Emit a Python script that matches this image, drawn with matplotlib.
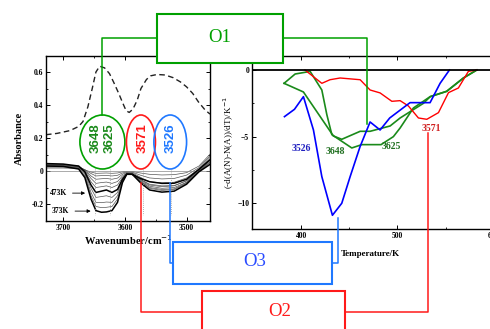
import numpy as np
import matplotlib
matplotlib.use("Agg")
import matplotlib.pyplot as plt
from matplotlib.patches import Ellipse, Rectangle

plt.rcParams['font.family'] = ['Liberation Serif', 'DejaVu Serif']

# ---- left panel: IR spectra ----
wavenumber = [3728, 3700, 3675, 3665, 3655, 3647, 3638, 3630, 3621, 3612,
              3604, 3597, 3588, 3575, 3560, 3540, 3520, 3500, 3480, 3460]
spec_temps = [373, 398, 423, 448, 473, 498, 523, 548, 573, 598]
spec_373 = [0.030, 0.028, 0.012, -0.04, -0.17, -0.24, -0.25, -0.248, -0.24, -0.19,
            -0.07, -0.02, -0.02, -0.045, -0.065, -0.075, -0.074, -0.05, 0.01, 0.075]
spec_398 = [0.033, 0.03, 0.016, -0.03, -0.15, -0.215, -0.222, -0.22, -0.215, -0.17,
            -0.065, -0.02, -0.022, -0.05, -0.08, -0.09, -0.088, -0.06, 0.005, 0.07]
spec_423 = [0.036, 0.034, 0.02, -0.02, -0.13, -0.19, -0.192, -0.188, -0.19, -0.15,
            -0.06, -0.02, -0.022, -0.055, -0.092, -0.105, -0.1, -0.068, 0.0, 0.062]
spec_448 = [0.04, 0.038, 0.025, -0.012, -0.105, -0.16, -0.155, -0.15, -0.16, -0.13,
            -0.055, -0.019, -0.021, -0.062, -0.105, -0.118, -0.112, -0.075, -0.003, 0.055]
spec_473 = [0.045, 0.042, 0.03, -0.005, -0.085, -0.13, -0.122, -0.115, -0.13, -0.112,
            -0.05, -0.018, -0.02, -0.07, -0.115, -0.128, -0.122, -0.08, -0.005, 0.045]
spec_498 = [0.04, 0.038, 0.03, 0.0, -0.065, -0.1, -0.095, -0.09, -0.1, -0.085,
            -0.04, -0.015, -0.018, -0.06, -0.1, -0.112, -0.108, -0.07, 0.0, 0.06]
spec_523 = [0.035, 0.034, 0.028, 0.005, -0.045, -0.075, -0.07, -0.067, -0.075, -0.064,
            -0.03, -0.012, -0.015, -0.05, -0.085, -0.095, -0.09, -0.058, 0.005, 0.075]
spec_548 = [0.03, 0.03, 0.025, 0.008, -0.03, -0.05, -0.047, -0.045, -0.05, -0.043,
            -0.02, -0.008, -0.01, -0.038, -0.065, -0.072, -0.068, -0.042, 0.012, 0.09]
spec_573 = [0.024, 0.024, 0.02, 0.008, -0.015, -0.03, -0.028, -0.027, -0.03, -0.026,
            -0.012, -0.005, -0.007, -0.025, -0.042, -0.048, -0.045, -0.025, 0.02, 0.1]
spec_598 = [0.018, 0.018, 0.015, 0.006, -0.006, -0.014, -0.013, -0.012, -0.014, -0.012,
            -0.005, -0.002, -0.003, -0.012, -0.02, -0.024, -0.022, -0.01, 0.03, 0.11]
spectra = [spec_373, spec_398, spec_423, spec_448, spec_473,
           spec_498, spec_523, spec_548, spec_573, spec_598]

# dashed reference spectrum
ref_x = [3728, 3710, 3689, 3675, 3668, 3660, 3653, 3647, 3641, 3633, 3625, 3618, 3610,
         3604, 3598, 3593, 3587, 3580, 3574, 3565, 3558, 3548, 3535, 3522, 3510, 3500,
         3490, 3481, 3470, 3462]
ref_y = [0.22, 0.228, 0.245, 0.27, 0.3, 0.39, 0.5, 0.6, 0.635, 0.625, 0.59, 0.536, 0.47,
         0.416, 0.365, 0.355, 0.375, 0.43, 0.5, 0.555, 0.577, 0.585, 0.582, 0.566, 0.54,
         0.51, 0.47, 0.42, 0.37, 0.345]

# ---- right panel: -dA/dT vs temperature ----
t_3526 = [382.7, 393.1, 402.4, 412.8, 421.5, 432.5, 442.2, 450.9, 461.2, 471.6,
          482.0, 492.0, 513.1, 533.9, 544.3, 554.0]
v_3526 = [-3.5, -2.95, -2.0, -4.5, -8.0, -10.9, -10.0, -8.0, -5.75, -3.9,
          -4.5, -3.6, -2.45, -2.45, -1.0, 0.0]
t_3571 = [404.0, 414.5, 421.5, 430.0, 440.5, 461.3, 471.6, 482.0, 494.2, 502.8,
          511.4, 521.8, 530.5, 542.6, 553.0, 563.3, 573.7, 582.4]
v_3571 = [0.0, -0.6, -1.0, -0.73, -0.6, -0.73, -1.5, -1.72, -2.35, -2.3,
          -2.7, -3.6, -3.7, -3.2, -1.7, -1.35, -0.1, 0.0]
t_3648 = [382.3, 402.4, 433.5, 442.2, 461.3, 471.6, 492.4, 502.8, 527.0, 534.0,
          551.0, 568.5, 582.4]
v_3648 = [-1.0, -1.65, -4.95, -5.2, -4.6, -4.6, -4.2, -3.6, -2.5, -2.0,
          -1.6, -0.6, 0.0]
t_3625 = [382.3, 393.8, 406.0, 409.3, 421.5, 426.7, 431.9, 452.6, 463.0, 473.4,
          483.0, 495.8, 502.8, 516.6, 534.0, 551.3, 568.5, 582.4]
v_3625 = [-1.0, -0.3, -0.15, -0.1, -1.5, -3.35, -4.85, -5.85, -5.6, -5.6,
          -5.6, -5.0, -4.35, -2.85, -2.0, -1.6, -0.6, 0.0]

GREEN = '#00a000'
RED = '#ff1a1a'
LBLUE = '#1f78ff'
W, H = 490, 329

fig = plt.figure(figsize=(4.9, 3.29), dpi=100)

ax1 = fig.add_axes([46 / W, 1 - 221 / H, (210 - 46) / W, (221 - 56) / H])
ax2 = fig.add_axes([252 / W, 1 - 229 / H, 261 / W, (229 - 56) / H])

# left panel
for temp, s in zip(spec_temps, spectra):
    if temp in (373, 473):
        ax1.plot(wavenumber, s, color='black', lw=1.1, zorder=3)
    else:
        ax1.plot(wavenumber, s, color='#555555', lw=0.5, zorder=2)
ax1.axhline(0, color='#888888', lw=0.5)
ax1.plot(ref_x, ref_y, color='#222222', lw=1.0, ls=(0, (4, 2.5)))
ax1.set_xlim(3728, 3462)
ax1.set_ylim(-0.303, 0.697)
ax1.set_xticks([3700, 3600, 3500])
ax1.set_xticks([3650, 3550], minor=True)
ax1.set_yticks([-0.2, 0, 0.2, 0.4, 0.6])
ax1.set_yticklabels(['-0.2', '0', '0.2', '0.4', '0.6'])
ax1.set_yticks([-0.1, 0.1, 0.3, 0.5], minor=True)
ax1.set_xlabel('Wavenumber/cm$^{-1}$', fontsize=7.5, fontweight='bold', labelpad=1)
ax1.set_ylabel('Absorbance', fontsize=7.5, fontweight='bold', labelpad=5)
ax1.annotate('473K', xy=(3660, -0.134), xytext=(3708, -0.134), fontsize=5.5,
             fontweight='bold', ha='center', va='center',
             arrowprops=dict(arrowstyle='-|>', lw=0.6, color='black', mutation_scale=5))
ax1.annotate('373K', xy=(3651, -0.243), xytext=(3704, -0.243), fontsize=5.5,
             fontweight='bold', ha='center', va='center',
             arrowprops=dict(arrowstyle='-|>', lw=0.6, color='black', mutation_scale=5))

# right panel
ax2.plot(t_3648, v_3648, color='#1a8a1a', lw=1.2)
ax2.plot(t_3625, v_3625, color='#1a8a1a', lw=1.2)
ax2.plot(t_3571, v_3571, color='#ff0000', lw=1.0)
ax2.plot(t_3526, v_3526, color='#0000ff', lw=1.2)
ax2.axhline(0, color='black', lw=1.3)
ax2.set_xlim(349, 620)
ax2.set_ylim(-11.93, 1.05)
ax2.set_xticks([400, 500, 600])
ax2.set_xticks([450, 550], minor=True)
ax2.set_yticks([-10, -5, 0])
ax2.set_yticks([-7.5, -2.5], minor=True)
ax2.set_xlabel('Temperature/K', fontsize=6.5, fontweight='bold')
ax2.xaxis.set_label_coords((370 - 252) / 261, -0.12)
ax2.set_ylabel('(-d(A(N)-N(A))/dT)/K$^{-1}$', fontsize=6.5, labelpad=1)
ax2.text(400, -5.87, '3526', color='#2020c0', fontsize=7, fontweight='bold', ha='center', va='center')
ax2.text(435.3, -6.08, '3648', color='#207020', fontsize=7, fontweight='bold', ha='center', va='center')
ax2.text(493.5, -5.75, '3625', color='#207020', fontsize=7, fontweight='bold', ha='center', va='center')
ax2.text(535.7, -4.37, '3571', color='#d02020', fontsize=7, fontweight='bold', ha='center', va='center')

for ax in (ax1, ax2):
    ax.tick_params(which='both', direction='in', top=True, right=True, labelsize=5.5, pad=2)
    ax.tick_params(which='major', length=3, width=0.7)
    ax.tick_params(which='minor', length=1.5, width=0.6)
    for lab in ax.get_xticklabels() + ax.get_yticklabels():
        lab.set_fontweight('bold')
    for sp in ax.spines.values():
        sp.set_linewidth(1.0)


def px(ax, x, y):
    X, Y = ax.transData.transform((x, y))
    return X, H - Y


# overlay in pixel coordinates
ov = fig.add_axes([0, 0, 1, 1], zorder=10)
ov.set_xlim(0, W)
ov.set_ylim(H, 0)
ov.axis('off')
ov.patch.set_alpha(0)

ell_y, ell_h = 142, 54
gx, _ = px(ax1, 3636.5, 0)
rx, _ = px(ax1, 3574, 0)
bx, _ = px(ax1, 3526.5, 0)
ov.add_patch(Ellipse((gx, ell_y), 45, ell_h, fill=False, ec=GREEN, lw=1.2))
ov.add_patch(Ellipse((rx, ell_y), 29, ell_h, fill=False, ec=RED, lw=1.2))
ov.add_patch(Ellipse((bx, ell_y), 32.7, ell_h, fill=False, ec=LBLUE, lw=1.2))

nar = ['Liberation Sans Narrow', 'Liberation Sans', 'DejaVu Sans']
for lbl, wn, c in [('3648', 3648, '#1a8a1a'), ('3625', 3625, '#1a8a1a'),
                   ('3571', 3571, RED), ('3526', 3526, LBLUE)]:
    x, _ = px(ax1, wn, 0)
    ov.text(x, 138, lbl, rotation=90, ha='center', va='center', color=c,
            fontsize=9.5, fontweight='bold', family=nar)
    ov.plot([x, x], [169, 215], color='#999999', lw=0.6, ls=(0, (1, 1.5)))

# O1 box (green)
ov.add_patch(Rectangle((157, 13.5), 126, 49, fc='white', ec=GREEN, lw=1.5))
ov.text(220, 38, 'O1', color=GREEN, fontsize=13.5, ha='center', va='center')
gtx, gty = px(ax2, 468.2, -4.05)
ov.plot([157, gx, gx], [37.7, 37.7, ell_y - ell_h / 2], color=GREEN, lw=1.1)
ov.plot([283, gtx, gtx], [37.7, 37.7, gty], color=GREEN, lw=1.1)

# O3 box (blue)
ov.add_patch(Rectangle((173, 242), 159, 41.5, fc='white', ec=LBLUE, lw=1.5))
ov.text(255, 262, 'O3', color='#2a4cff', fontsize=13.5, ha='center', va='center')
_, by0 = px(ax1, 3526, -0.074)
btx, bty = px(ax2, 438.6, -11.1)
ov.plot([bx, bx, 173], [by0, 263, 263], color=LBLUE, lw=1.1)
ov.plot([332, btx, btx], [263, 263, bty], color=LBLUE, lw=1.1)

# O2 box (red)
ov.add_patch(Rectangle((202, 291), 143, 45, fc='white', ec=RED, lw=1.5))
ov.text(280, 311, 'O2', color=RED, fontsize=13.5, ha='center', va='center')
_, ry0 = px(ax1, 3571, -0.074)
rtx, rty = px(ax2, 531.4, -4.7)
ov.plot([rx, rx, 202], [ry0, 312, 312], color=RED, lw=1.1)
ov.plot([345, rtx, rtx], [312, 312, rty], color=RED, lw=1.1)

fig.savefig('out.png', dpi=100)
